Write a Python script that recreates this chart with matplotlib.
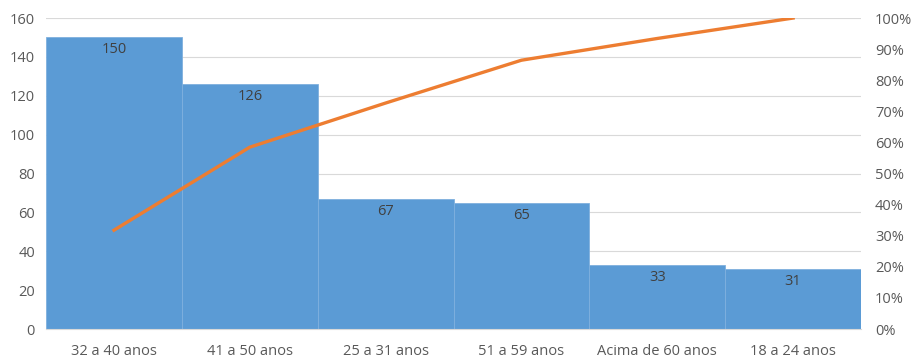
import matplotlib
matplotlib.use("Agg")
import matplotlib.pyplot as plt
import numpy as np
from matplotlib.ticker import FuncFormatter

categories = ["32 a 40 anos", "41 a 50 anos", "25 a 31 anos", "51 a 59 anos", "Acima de 60 anos", "18 a 24 anos"]
counts = [150, 126, 67, 65, 33, 31]
left_ticks = [0, 20, 40, 60, 80, 100, 120, 140, 160]
right_ticks = [0, 10, 20, 30, 40, 50, 60, 70, 80, 90, 100]

cum_pct = np.cumsum(counts) / np.sum(counts) * 100

plt.rcParams['font.family'] = ['Open Sans', 'DejaVu Sans']
txt = '#595959'

fig = plt.figure(figsize=(9.15, 3.61), dpi=100)
ax = fig.add_axes([0.0503, 0.0886, 0.8907, 0.8614])
x = np.arange(len(categories))
ax.bar(x, counts, width=1.0, color='#5B9BD5', edgecolor='#7FB0DE', linewidth=0.6, zorder=2)
for xi, c in zip(x, counts):
    ax.text(xi, c - 2.5, str(c), ha='center', va='top', fontsize=10.5, color='#404040', zorder=3)
ax.set_xlim(-0.5, len(categories) - 0.5)
ax.set_ylim(0, 160)
ax.set_yticks(left_ticks)
ax.set_xticks(x)
ax.set_xticklabels(categories)
ax.yaxis.grid(True, color='#D9D9D9', linewidth=0.8, zorder=0)
ax.set_axisbelow(True)
for s in ['top', 'right', 'left']:
    ax.spines[s].set_visible(False)
ax.spines['bottom'].set_color('#D9D9D9')
ax.tick_params(axis='y', length=0, labelsize=10.5, colors=txt, pad=8)
ax.tick_params(axis='x', length=0, labelsize=10.5, colors=txt, pad=11)

ax2 = ax.twinx()
ax2.plot(x, cum_pct, color='#ED7D31', linewidth=2.4, zorder=4)
ax2.set_ylim(0, 100)
ax2.set_yticks(right_ticks)
ax2.yaxis.set_major_formatter(FuncFormatter(lambda v, p: f"{int(v)}%"))
for s in ['top', 'right', 'left', 'bottom']:
    ax2.spines[s].set_visible(False)
ax2.tick_params(axis='y', length=0, labelsize=10.5, colors=txt, pad=10)

fig.savefig("out.png", dpi=100)
